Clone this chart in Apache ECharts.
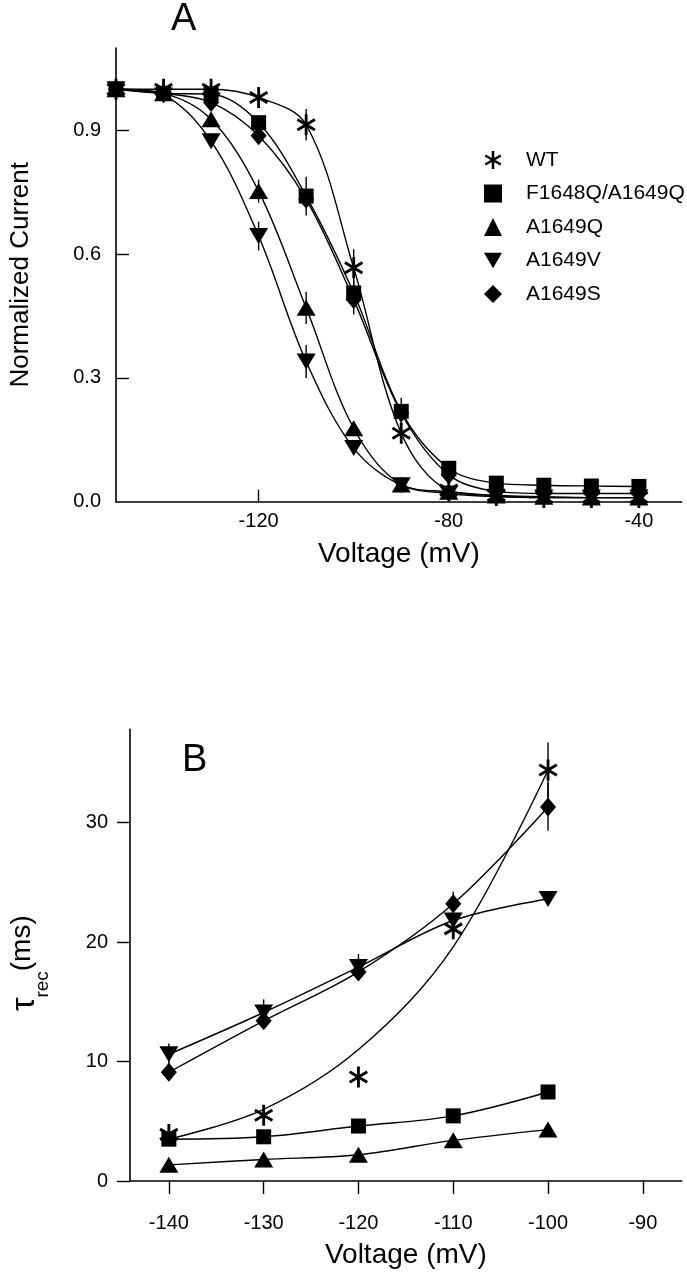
<!DOCTYPE html>
<html><head><meta charset="utf-8">
<script src="https://cdn.jsdelivr.net/npm/echarts@6/dist/echarts.min.js"></script>
<style>html,body{margin:0;padding:0;background:#fff}#c{width:687px;height:1280px}</style>
</head><body><div id="c"></div>
<script>
// ---------- Panel A: steady-state inactivation ----------
const voltsA = [-150,-140,-130,-120,-110,-100,-90,-80,-70,-60,-50,-40];
const wtA    = [1.00,1.00,1.00,0.98,0.914,0.567,0.166,0.028,0.015,0.010,0.010,0.010];
const fqaqA  = [1.00,0.99,0.988,0.919,0.741,0.506,0.219,0.081,0.045,0.040,0.038,0.037];
const aqA    = [1.00,0.99,0.927,0.753,0.470,0.178,0.042,0.024,0.015,0.012,0.010,0.010];
const avA    = [1.00,0.985,0.874,0.644,0.340,0.130,0.040,0.020,0.012,0.010,0.010,0.010];
const asA    = [1.00,0.99,0.968,0.887,0.733,0.490,0.215,0.065,0.025,0.020,0.020,0.020];
// error bars (SEM) panel A
const wtErrA   = [0,0,0,0,0.038,0.045,0.02,0,0,0,0,0];
const fqaqErrA = [0,0,0,0,0.047,0.03,0.033,0,0,0,0,0];
const aqErrA   = [0,0,0,0.028,0.039,0.015,0,0,0,0,0,0];
const avErrA   = [0,0,0,0.035,0.04,0,0,0,0,0,0,0];
const asErrA   = [0,0,0,0,0,0.036,0,0,0,0,0,0];
const xTicksA = [-120,-80,-40];
const yTicksA = [0,0.3,0.6,0.9];

// ---------- Panel B: recovery time constants ----------
const voltsB = [-140,-130,-120,-110,-100];
const wtB    = [3.9,5.5,8.7,21.1,34.4];
const wtFitB = [3.5,6.0,11.0,19.6,34.4];
const fqaqB  = [3.5,3.7,4.6,5.45,7.45];
const aqB    = [1.35,1.8,2.2,3.4,4.3];
const avB    = [10.6,14.1,17.9,21.8,23.6];
const asB    = [9.1,13.4,17.5,23.2,31.3];
const wtErrB = [0.3,0,0,0,2.3];
const avErrB = [0.9,1.1,1.1,0,0];
const asErrB = [0,0,0,1.0,2.0];
const xTicksB = [-140,-130,-120,-110,-100,-90];
const yTicksB = [0,10,20,30];

const names = ['WT','F1648Q/A1649Q','A1649Q','A1649V','A1649S'];

const FONT = "'Liberation Sans',Arial,Helvetica,sans-serif";

const asteriskPath = 'path://M43,0L57,0L57,100L43,100Z M89.8,18.9L96.8,31.1L10.2,81.1L3.2,68.9Z M3.2,31.1L10.2,18.9L96.8,68.9L89.8,81.1Z';
const triDownPath = 'path://M0,0L20,0L10,17Z';
const sym = {
  'WT': {symbol: asteriskPath, size: [19,21]},
  'F1648Q/A1649Q': {symbol: 'rect', size: [15,15]},
  'A1649Q': {symbol: 'triangle', size: [19,16]},
  'A1649V': {symbol: triDownPath, size: [19,16]},
  'A1649S': {symbol: 'diamond', size: [16,19]}
};

function pairs(xs, ys){ return xs.map((x,i)=>[x, ys[i]]); }

function lineSeries(name, xs, ys, gi, showSym){
  return {
    name: name, type: 'line', xAxisIndex: gi, yAxisIndex: gi,
    data: pairs(xs, ys), smooth: 0.35,
    symbol: showSym ? sym[name].symbol : 'none',
    symbolSize: sym[name].size,
    showAllSymbol: true,
    lineStyle: {color:'#000', width: 1.4},
    itemStyle: {color:'#000', borderWidth: 0, opacity: 1},
    emphasis: {disabled: true},
    z: 3
  };
}
function scatterSeries(name, xs, ys, gi){
  return {
    name: name, type: 'scatter', xAxisIndex: gi, yAxisIndex: gi,
    data: pairs(xs, ys), symbol: sym[name].symbol, symbolSize: sym[name].size,
    itemStyle: {color:'#000', opacity: 1}, emphasis: {disabled: true}, z: 4
  };
}
function errSeries(xs, ys, es, gi){
  const data = xs.map((x,i)=>[x, ys[i], es[i]]).filter(d=>d[2]>0);
  return {
    type: 'custom', xAxisIndex: gi, yAxisIndex: gi, data: data, silent: true, z: 2,
    renderItem: function(params, api){
      const x = api.value(0), y = api.value(1), e = api.value(2);
      const p1 = api.coord([x, y + e]), p2 = api.coord([x, y - e]);
      return {type:'line', shape:{x1:p1[0], y1:p1[1], x2:p2[0], y2:p2[1]},
              style:{stroke:'#000', lineWidth:1.4}};
    }
  };
}

const axisLineStyle = {lineStyle:{color:'#000', width:1.6}};

const option = {
  animation: false,
  backgroundColor: '#fff',
  textStyle: {fontFamily: FONT, color:'#000'},
  title: [
    {text:'A', left: 166, top: -4, textStyle:{fontFamily: FONT, fontSize: 38, fontWeight:'normal', color:'#000'}},
    {text:'B', left: 177, top: 737, textStyle:{fontFamily: FONT, fontSize: 38, fontWeight:'normal', color:'#000'}}
  ],
  legend: {
    orient: 'vertical', left: 479, top: 144.5,
    itemWidth: 18, itemHeight: 18, itemGap: 12.5,
    selectedMode: false,
    textStyle: {fontFamily: FONT, fontSize: 21, color:'#000', padding:[0,0,0,19]},
    data: names.map(n => ({name: n, icon: sym[n].symbol,
                           itemStyle:{color:'#000', borderWidth:0, opacity:1}}))
  },
  grid: [
    {left: 115, right: 5.3, top: 48, bottom: 778.3},
    {left: 115, right: 5.3, top: 729.3, bottom: 99}
  ],
  xAxis: [
    {gridIndex:0, type:'value', min:-150, max:-31,
     name:'Voltage (mV)', nameLocation:'middle', nameGap: 39,
     nameTextStyle:{fontFamily: FONT, fontSize: 28, color:'#000'},
     axisLine: axisLineStyle, splitLine:{show:false},
     axisTick:{inside:true, length:12, customValues: xTicksA, lineStyle:{color:'#000', width:1.4}},
     axisLabel:{customValues: xTicksA, margin: 10, fontSize: 20, color:'#000', fontFamily: FONT}},
    {gridIndex:1, type:'value', min:-144.1, max:-85.9,
     name:'Voltage (mV)', nameLocation:'middle', nameGap: 60,
     nameTextStyle:{fontFamily: FONT, fontSize: 28, color:'#000'},
     axisLine: axisLineStyle, splitLine:{show:false},
     axisTick:{inside:false, length:13, customValues: xTicksB, lineStyle:{color:'#000', width:1.4}},
     axisLabel:{customValues: xTicksB, margin: 32, fontSize: 20, color:'#000', fontFamily: FONT}}
  ],
  yAxis: [
    {gridIndex:0, type:'value', min:0, max:1.1,
     name:'Normalized Current', nameLocation:'middle', nameGap: 82, nameRotate: 90,
     nameTextStyle:{fontFamily: FONT, fontSize: 26, color:'#000'},
     axisLine: Object.assign({show:true}, axisLineStyle), splitLine:{show:false},
     axisTick:{show:true, inside:true, length:13, customValues: yTicksA.filter(v=>v>0), lineStyle:{color:'#000', width:1.4}},
     axisLabel:{customValues: yTicksA, margin: 15, fontSize: 20, color:'#000', fontFamily: FONT,
                formatter: v => v.toFixed(1)}},
    {gridIndex:1, type:'value', min:0, max:37.8,
     name:'{t|τ}{s|rec}{n|(ms)}', nameLocation:'middle', nameGap: 78, nameRotate: 90,
     nameTextStyle:{fontFamily: FONT, color:'#000', padding:[0,16,0,0],
       rich:{
         t:{fontFamily: FONT, fontSize: 34, lineHeight: 44, verticalAlign:'top', color:'#000'},
         s:{fontFamily: FONT, fontSize: 19, lineHeight: 44, verticalAlign:'bottom', color:'#000'},
         n:{fontFamily: FONT, fontSize: 28, lineHeight: 44, verticalAlign:'top', color:'#000'}
       }},
     axisLine: Object.assign({show:true}, axisLineStyle), splitLine:{show:false},
     axisTick:{show:true, inside:false, length:13, customValues: yTicksB, lineStyle:{color:'#000', width:1.4}},
     axisLabel:{customValues: yTicksB, margin: 22, fontSize: 20, color:'#000', fontFamily: FONT}}
  ],
  series: [
    errSeries(voltsA, wtA, wtErrA, 0),
    errSeries(voltsA, fqaqA, fqaqErrA, 0),
    errSeries(voltsA, aqA, aqErrA, 0),
    errSeries(voltsA, avA, avErrA, 0),
    errSeries(voltsA, asA, asErrA, 0),
    lineSeries('WT', voltsA, wtA, 0, true),
    lineSeries('F1648Q/A1649Q', voltsA, fqaqA, 0, true),
    lineSeries('A1649Q', voltsA, aqA, 0, true),
    lineSeries('A1649V', voltsA, avA, 0, true),
    lineSeries('A1649S', voltsA, asA, 0, true),

    errSeries(voltsB, wtB, wtErrB, 1),
    errSeries(voltsB, avB, avErrB, 1),
    errSeries(voltsB, asB, asErrB, 1),
    Object.assign(lineSeries('WT', voltsB, wtFitB, 1, false), {name:'WT fit'}),
    scatterSeries('WT', voltsB, wtB, 1),
    lineSeries('F1648Q/A1649Q', voltsB, fqaqB, 1, true),
    lineSeries('A1649Q', voltsB, aqB, 1, true),
    lineSeries('A1649V', voltsB, avB, 1, true),
    lineSeries('A1649S', voltsB, asB, 1, true)
  ]
};
const chart = echarts.init(document.getElementById('c'), null, {renderer:'canvas'});
chart.setOption(option);
</script>
</body></html>
